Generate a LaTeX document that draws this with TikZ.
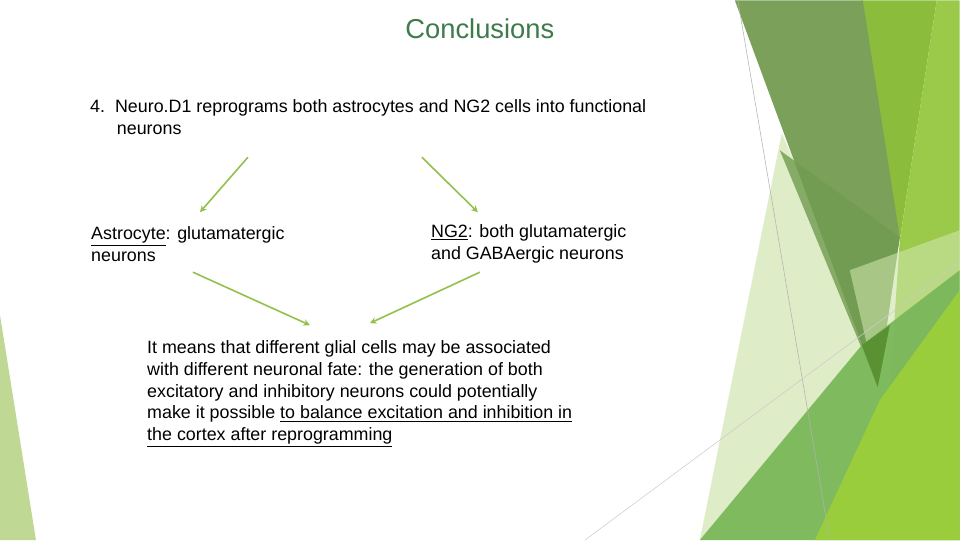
\documentclass[tikz,border=0pt]{standalone}
\usepackage{fontspec}
\setmainfont{Liberation Sans}
\usetikzlibrary{arrows.meta}
\definecolor{titleg}{HTML}{3E7B4A}
\definecolor{arrg}{HTML}{94C04C}
\begin{document}
\begin{tikzpicture}[x=0.75pt,y=-0.75pt,
  txt/.style={anchor=north west,inner sep=0pt,align=left,font=\fontsize{13.4}{16.4}\selectfont},
  arr/.style={draw=arrg,line width=1.2pt,-{Stealth[length=5pt,width=5pt]}},
  facet/.style={draw=none}]
\fill[white] (0,0) rectangle (960,540);
% decoration
\fill[facet,fill=arrg!60!white] (0,315) -- (36,540) -- (0,540) -- cycle;
\fill[facet,fill={rgb,255:red,214;green,232;blue,186},opacity=0.8] (782,133) -- (960,540) -- (700,540) -- cycle;
\fill[facet,fill={rgb,255:red,140;green,188;blue,60}] (862,0) -- (937,0) -- (900,240) -- cycle;
\fill[fill={rgb,255:red,155;green,202;blue,74}] (937,0) -- (960,0) -- (960,540) -- (880,540) -- (900,240) -- cycle;
\fill[fill={rgb,255:red,122;green,160;blue,90}] (735,0) -- (863,0) -- (900,237) -- (878,387) -- cycle;
\fill[fill={rgb,255:red,112;green,155;blue,80},opacity=0.8] (780,150) -- (900,237) -- (878,387) -- cycle;
\fill[fill={rgb,255:red,205;green,228;blue,170},opacity=0.6] (850,270) -- (960,230) -- (960,330) -- (880,400) -- cycle;
\fill[fill={rgb,255:red,122;green,184;blue,90},opacity=0.95] (700,540) -- (862,345) -- (960,270) -- (960,540) -- cycle;
\fill[fill={rgb,255:red,90;green,145;blue,50}] (862,345) -- (890,325) -- (878,387) -- cycle;
\fill[fill={rgb,255:red,154;green,205;blue,60}] (815,540) -- (880,400) -- (960,290) -- (960,540) -- cycle;
\draw[gray!60,line width=0.4pt] (738,0) -- (830,540);
\draw[gray!40,line width=0.4pt] (585,540) -- (960,262);
% text
\node[anchor=center,text=titleg,font=\fontsize{20.5}{24}\selectfont] (title) at (480,28) {Conclusions};
\node[txt] (p4) at (90,99) {4.\ \ Neuro.D1 reprograms both astrocytes and NG2 cells into functional\\\hspace*{20pt}neurons};
\node[txt] (astro) at (91,226) {\underline{Astrocyte}: glutamatergic\\neurons};
\node[txt] (ng2) at (431,224) {\underline{NG2}: both glutamatergic\\and GABAergic neurons};
\node[txt] (concl) at (147,340) {It means that different glial cells may be associated\\with different neuronal fate: the generation of both\\excitatory and inhibitory neurons could potentially\\make it possible \underline{to balance excitation and inhibition in}\\\underline{the cortex after reprogramming}};
\coordinate (a1) at (248,157); \coordinate (a2) at (200,212);
\coordinate (b1) at (422,157); \coordinate (b2) at (478,212);
\coordinate (c1) at (193,272); \coordinate (c2) at (310,325);
\coordinate (d1) at (480,272); \coordinate (d2) at (370,323);
\draw[arr] (a1) -- (a2);
\draw[arr] (b1) -- (b2);
\draw[arr] (c1) -- (c2);
\draw[arr] (d1) -- (d2);
\end{tikzpicture}
\end{document}
